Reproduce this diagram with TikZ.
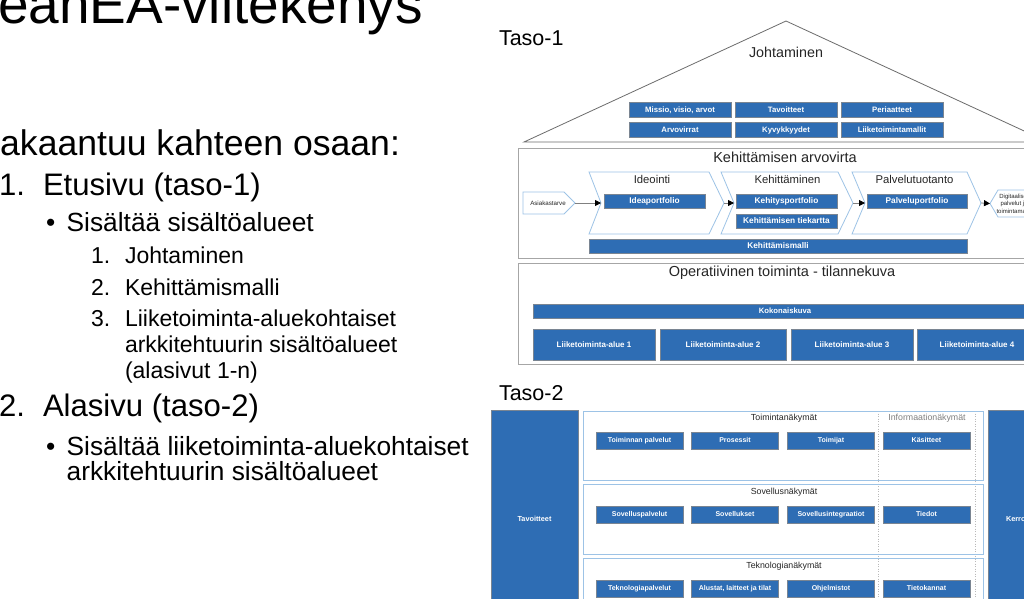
\documentclass[tikz,border=0pt]{standalone}
\usepackage{fontspec}
\setmainfont{Liberation Sans}
\usetikzlibrary{arrows.meta}
\definecolor{eablue}{HTML}{2E6DB4}
\definecolor{boxedge}{HTML}{7A8592}
\definecolor{chevblue}{HTML}{9DC3E6}
\definecolor{framegray}{HTML}{A6A6A6}
\definecolor{darktext}{HTML}{262626}
\begin{document}
\begin{tikzpicture}[x=1pt,y=-1pt,
  lt/.style={inner sep=0pt, outer sep=0pt, text=black},
  dl/.style={inner sep=0pt, outer sep=0pt, text=darktext},
  bbox/.style={draw=boxedge, line width=0.6pt, fill=eablue, text=white, inner sep=0pt, outer sep=0pt, anchor=center},
  bbA/.style={bbox, font=\bfseries\fontsize{7.8}{8}\selectfont, text height=5.6pt, text depth=0.5pt},
  bbK/.style={bbox, font=\bfseries\fontsize{8.3}{8}\selectfont, text height=6pt, text depth=0.5pt},
  bbL/.style={bbox, font=\bfseries\fontsize{8}{8}\selectfont, text height=5.8pt, text depth=0.5pt},
  bbT/.style={bbox, font=\bfseries\fontsize{7}{7}\selectfont, text height=5pt, text depth=0.5pt},
  frm/.style={draw=framegray, line width=1pt},
  chev/.style={draw=chevblue, line width=0.8pt, fill=white},
  panel/.style={draw=chevblue, line width=0.8pt},
  dotl/.style={draw=gray!55, line width=0.5pt, dotted},
  roof/.style={draw=gray!85!black, line width=0.8pt},
  flow/.style={draw=gray, line width=0.8pt, -{Triangle[length=6pt,width=6pt,color=black]}},
  l1/.style={lt, anchor=base east, font=\fontsize{35.6}{36}\selectfont},
  l2/.style={lt, anchor=base west, font=\fontsize{31.1}{31}\selectfont},
  l3/.style={lt, anchor=base west, font=\fontsize{26.3}{26}\selectfont},
  l4/.style={lt, anchor=base west, font=\fontsize{23}{23}\selectfont},
  ttl/.style={dl, font=\fontsize{14.5}{15}\selectfont},
  sec/.style={dl, font=\fontsize{8.8}{9}\selectfont}
]
\useasboundingbox (0,0) rectangle (1024,598);
\clip (0,0) rectangle (1024,598);
\fill[white] (0,0) rectangle (1024,598);

% ---------- left text ----------
\node[lt, anchor=base east, font=\fontsize{55}{55}\selectfont] (title) at (423,23) {eanEA-viitekehys};
\node[l1] (intro) at (400,155) {akaantuu kahteen osaan:};
\node[l2] (n1) at (-1,195) {1.};
\node[l2] (etu) at (43,195) {Etusivu (taso-1)};
\node[l3] (b1) at (46,231.7) {•};
\node[l3] (sis1) at (66.7,231.7) {Sisältää sisältöalueet};
\node[l4] (m1) at (91,263.3) {1.};
\node[l4] (joh) at (125,263.3) {Johtaminen};
\node[l4] (m2) at (91,295.7) {2.};
\node[l4] (keh) at (125,295.7) {Kehittämismalli};
\node[l4] (m3) at (91,326.7) {3.};
\node[l4] (liik) at (125,326.7) {Liiketoiminta-aluekohtaiset};
\node[l4] (liikb) at (125,352.7) {arkkitehtuurin sisältöalueet};
\node[l4] (liikc) at (125,378.3) {(alasivut 1-n)};
\node[l2] (n2) at (-1,416.7) {2.};
\node[l2] (ala) at (43,416.7) {Alasivu (taso-2)};
\node[l3] (b2) at (46,455) {•};
\node[l3] (sis2) at (66.7,455) {Sisältää liiketoiminta-aluekohtaiset};
\node[l3] (sis2b) at (66.7,480) {arkkitehtuurin sisältöalueet};

% ---------- Taso-1 ----------
\node[lt, anchor=base west, font=\fontsize{21.5}{22}\selectfont] (taso1) at (499,45) {Taso-1};
\draw[roof] (524,142) -- (786,21) -- (1048,142) -- cycle;
\node[dl, font=\fontsize{14.3}{14}\selectfont] (johtam) at (786,52) {Johtaminen};
\node[bbA, minimum width=102, minimum height=15] (mva) at (680,109.5) {Missio, visio, arvot};
\node[bbA, minimum width=102, minimum height=15] (tav1) at (786,109.5) {Tavoitteet};
\node[bbA, minimum width=102, minimum height=15] (peri) at (892,109.5) {Periaatteet};
\node[bbA, minimum width=102, minimum height=15] (arvo) at (680,129.5) {Arvovirrat};
\node[bbA, minimum width=102, minimum height=15] (kyvy) at (786,129.5) {Kyvykkyydet};
\node[bbA, minimum width=102, minimum height=15] (liikm) at (892,129.5) {Liiketoimintamallit};

% Kehittämisen arvovirta
\draw[frm] (518,148) rectangle (1045,258);
\node[ttl] (kehtitle) at (785,157) {Kehittämisen arvovirta};
\draw[chev] (523,192) -- (564,192) -- (575,203) -- (564,214) -- (523,214) -- cycle;
\node[dl, text=gray!30!black, font=\fontsize{6.2}{6}\selectfont] (asia) at (548,203) {Asiakastarve};
\coordinate (asiat) at (575,203);
\draw[chev] (589,172) -- (709,172) -- (724,203) -- (709,234) -- (589,234) -- (601,203) -- cycle;
\draw[chev] (721,172) -- (838,172) -- (853,203) -- (838,234) -- (721,234) -- (734,203) -- cycle;
\draw[chev] (852,172) -- (967,172) -- (981,203) -- (967,234) -- (852,234) -- (865,203) -- cycle;
\coordinate (c1n) at (601,203);
\coordinate (c1t) at (724,203);
\coordinate (c2n) at (734,203);
\coordinate (c2t) at (853,203);
\coordinate (c3n) at (865,203);
\coordinate (c3t) at (981,203);
\draw[chev] (990,203.5) -- (998,190) -- (1028,190) -- (1036,203.5) -- (1028,217) -- (998,217) -- cycle;
\coordinate (digil) at (990,203.5);
\node[dl, text=gray!30!black, align=center, font=\fontsize{6}{7.5}\selectfont] (digi) at (1014,203.5) {Digitaaliset\\palvelut ja\\toimintamallit};
\node[dl, font=\fontsize{11.3}{11}\selectfont] (ideo) at (652,179.3) {Ideointi};
\node[dl, font=\fontsize{11.3}{11}\selectfont] (kehl) at (787.5,179.3) {Kehittäminen};
\node[dl, font=\fontsize{11.3}{11}\selectfont] (palvl) at (914.5,179.3) {Palvelutuotanto};
\node[bbK, minimum width=101, minimum height=14] (ideap) at (654.5,201) {Ideaportfolio};
\node[bbK, minimum width=101, minimum height=14] (kehp) at (786.5,201) {Kehitysportfolio};
\node[bbK, minimum width=101, minimum height=14] (tiek) at (786.5,221) {Kehittämisen tiekartta};
\node[bbK, minimum width=100, minimum height=14] (palvp) at (917,201) {Palveluportfolio};
\node[bbK, minimum width=378, minimum height=14] (kehm) at (778,246) {Kehittämismalli};
\draw[flow] (asiat) -- (c1n);
\draw[flow] (c1t) -- (c2n);
\draw[flow] (c2t) -- (c3n);
\draw[flow] (c3t) -- (digil);

% Operatiivinen toiminta
\draw[frm] (518,263) rectangle (1045,364);
\node[ttl] (optitle) at (782,273) {Operatiivinen toiminta - tilannekuva};
\node[bbL, font=\bfseries\fontsize{7.7}{8}\selectfont, text height=5.5pt, minimum width=504, minimum height=14] (koko) at (785,311) {Kokonaiskuva};
\node[bbL, minimum width=122, minimum height=31] (la1) at (594,344.5) {Liiketoiminta-alue 1};
\node[bbL, minimum width=126, minimum height=31] (la2) at (723,344.5) {Liiketoiminta-alue 2};
\node[bbL, minimum width=122, minimum height=31] (la3) at (852,344.5) {Liiketoiminta-alue 3};
\node[bbL, minimum width=120, minimum height=31] (la4) at (977,344.5) {Liiketoiminta-alue 4};

% ---------- Taso-2 ----------
\node[lt, anchor=base west, font=\fontsize{21.5}{22}\selectfont] (taso2) at (499,400) {Taso-2};
\node[bbT, font=\bfseries\fontsize{7.3}{7}\selectfont, text height=5.2pt, minimum width=87, minimum height=218] (tavc) at (534.5,519) {Tavoitteet};
\node[bbT, minimum width=87, minimum height=218] (kerc) at (1031.5,519) {};
\node[lt, text=white, anchor=west, font=\bfseries\fontsize{7.3}{7}\selectfont, text height=5.2pt, text depth=0.5pt] (kert) at (1006,519) {Kerrokset};
\draw[dotl] (878.5,411) -- (878.5,598);
\draw[dotl] (975,411) -- (975,598);
\draw[panel] (583,411) rectangle (983.5,480);
\draw[panel] (583,484) rectangle (983.5,554);
\draw[panel] (583,558) rectangle (983.5,628);
\node[sec] (toimn) at (784,418) {Toimintanäkymät};
\node[sec, text=gray] (infon) at (927,418) {Informaationäkymät};
\node[sec] (sovn) at (784,492) {Sovellusnäkymät};
\node[sec] (tekn) at (784,566) {Teknologianäkymät};
\node[bbT, minimum width=87, minimum height=17] (tp) at (639.5,440.5) {Toiminnan palvelut};
\node[bbT, minimum width=87, minimum height=17] (pros) at (735,440.5) {Prosessit};
\node[bbT, minimum width=87, minimum height=17] (toim) at (831,440.5) {Toimijat};
\node[bbT, minimum width=87, minimum height=17] (kas) at (926.5,440.5) {Käsitteet};
\node[bbT, minimum width=87, minimum height=17] (sp) at (639.5,514.5) {Sovelluspalvelut};
\node[bbT, minimum width=87, minimum height=17] (sov) at (735,514.5) {Sovellukset};
\node[bbT, minimum width=87, minimum height=17] (soi) at (831,514.5) {Sovellusintegraatiot};
\node[bbT, minimum width=87, minimum height=17] (tied) at (926.5,514.5) {Tiedot};
\node[bbT, minimum width=87, minimum height=17] (tkp) at (639.5,588.5) {Teknologiapalvelut};
\node[bbT, minimum width=87, minimum height=17] (alu) at (735,588.5) {Alustat, laitteet ja tilat};
\node[bbT, minimum width=87, minimum height=17] (ohj) at (831,588.5) {Ohjelmistot};
\node[bbT, minimum width=87, minimum height=17] (tk) at (926.5,588.5) {Tietokannat};
\end{tikzpicture}
\end{document}
